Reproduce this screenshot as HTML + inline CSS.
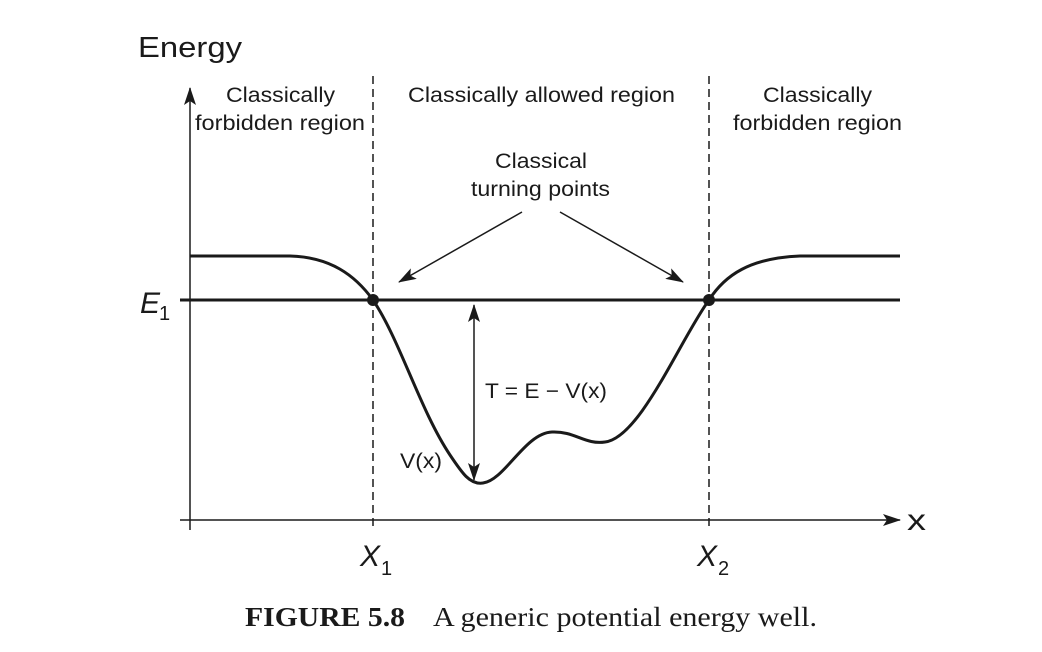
<!DOCTYPE html>
<html><head><style>
body{margin:0;background:#fff;}
svg{display:block;}
text{font-family:"Liberation Sans",sans-serif;fill:#1a1a1a;}
.s{font-family:"Liberation Serif",serif;}
</style></head><body>
<svg width="1042" height="652" viewBox="0 0 1042 652" xmlns="http://www.w3.org/2000/svg">
<defs>
<marker id="ah" markerWidth="18" markerHeight="12" refX="17" refY="6" orient="auto" markerUnits="userSpaceOnUse">
<path d="M0,0 L18,6 L0,12 L4,6 Z" fill="#1a1a1a"/></marker>
</defs>
<text x="138" y="57" font-size="29" textLength="104" lengthAdjust="spacingAndGlyphs">Energy</text>
<line x1="190" y1="530" x2="190" y2="88" stroke="#1a1a1a" stroke-width="1.5" marker-end="url(#ah)"/>
<line x1="180" y1="520" x2="900" y2="520" stroke="#1a1a1a" stroke-width="1.5" marker-end="url(#ah)"/>
<text x="907" y="530" font-size="30" textLength="19" lengthAdjust="spacingAndGlyphs">x</text>
<line x1="373" y1="76" x2="373" y2="530" stroke="#1a1a1a" stroke-width="1.5" stroke-dasharray="8,5"/>
<line x1="709" y1="76" x2="709" y2="530" stroke="#1a1a1a" stroke-width="1.5" stroke-dasharray="8,5"/>
<line x1="180" y1="300" x2="900" y2="300" stroke="#1a1a1a" stroke-width="3"/>
<text x="140" y="313" font-size="30" font-style="italic">E</text><text x="159" y="320" font-size="20">1</text>
<path d="M190,256 L290,256 C330,257 355,275 373,300 C400,340 420,410 450,455 C462,473 470,485 483,483 C505,480 525,433 552,432 C575,431 585,445 605,442 C640,438 680,340 709,300 C725,275 750,258 800,256 L900,256" fill="none" stroke="#1a1a1a" stroke-width="3"/>
<circle cx="373" cy="300" r="6" fill="#1a1a1a"/>
<circle cx="709" cy="300" r="6" fill="#1a1a1a"/>
<line x1="474" y1="392" x2="474" y2="305" stroke="#1a1a1a" stroke-width="1.5" marker-end="url(#ah)"/>
<line x1="474" y1="392" x2="474" y2="480" stroke="#1a1a1a" stroke-width="1.5" marker-end="url(#ah)"/>
<text x="485" y="398" font-size="21" textLength="122" lengthAdjust="spacingAndGlyphs">T = E − V(x)</text>
<text x="400" y="468" font-size="21" textLength="42" lengthAdjust="spacingAndGlyphs">V(x)</text>
<line x1="522" y1="212" x2="399" y2="282" stroke="#1a1a1a" stroke-width="1.5" marker-end="url(#ah)"/>
<line x1="560" y1="212" x2="683" y2="282" stroke="#1a1a1a" stroke-width="1.5" marker-end="url(#ah)"/>
<text x="495" y="168" font-size="21" textLength="92" lengthAdjust="spacingAndGlyphs">Classical</text>
<text x="471" y="196" font-size="21" textLength="139" lengthAdjust="spacingAndGlyphs">turning points</text>
<text x="226" y="102" font-size="21" textLength="109" lengthAdjust="spacingAndGlyphs">Classically</text>
<text x="195" y="130" font-size="21" textLength="170" lengthAdjust="spacingAndGlyphs">forbidden region</text>
<text x="408" y="102" font-size="21" textLength="267" lengthAdjust="spacingAndGlyphs">Classically allowed region</text>
<text x="763" y="102" font-size="21" textLength="109" lengthAdjust="spacingAndGlyphs">Classically</text>
<text x="733" y="130" font-size="21" textLength="169" lengthAdjust="spacingAndGlyphs">forbidden region</text>
<text x="360" y="566" font-size="30" font-style="italic">X</text><text x="381" y="575" font-size="20">1</text>
<text x="697" y="566" font-size="30" font-style="italic">X</text><text x="718" y="575" font-size="20">2</text>
<text class="s" x="245" y="626" font-size="27" font-weight="bold" textLength="160" lengthAdjust="spacingAndGlyphs">FIGURE 5.8</text>
<text class="s" x="433" y="626" font-size="27" textLength="384" lengthAdjust="spacingAndGlyphs">A generic potential energy well.</text>
</svg>
</body></html>
